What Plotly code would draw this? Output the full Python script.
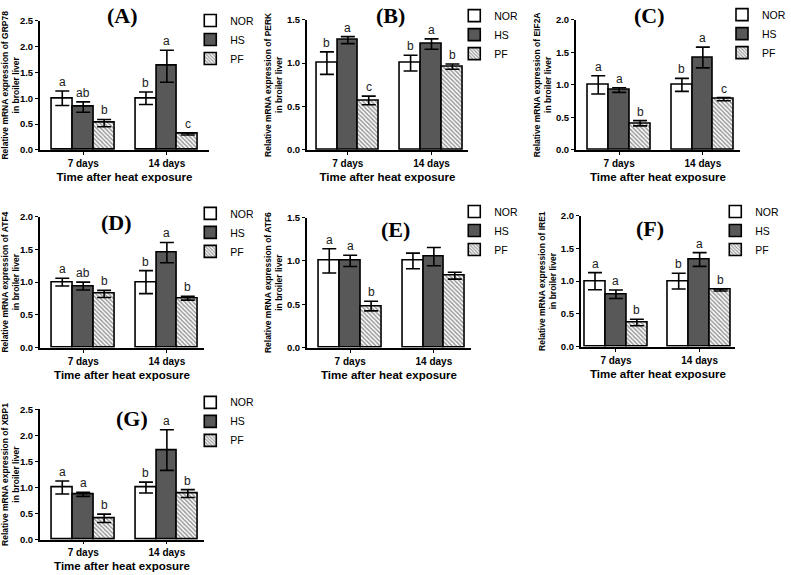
import plotly.graph_objects as go

W, H = 791, 575

categories = ["7 days", "14 days"]
groups = ["NOR", "HS", "PF"]
genes = ["GRP78", "PERK", "EIF2A", "ATF4", "ATF6", "IRE1", "XBP1"]
panel_labels = ["(A)", "(B)", "(C)", "(D)", "(E)", "(F)", "(G)"]
y_max = [2.5, 1.5, 2.0, 2.0, 1.5, 2.0, 2.5]

# means [7 days, 14 days] per panel
nor_mean = [[1.0, 1.0], [1.0, 1.0], [1.0, 1.0], [1.0, 1.0], [1.0, 1.0], [1.0, 1.0], [1.0, 1.0]]
hs_mean = [[0.83, 1.62], [1.265, 1.22], [0.92, 1.42], [0.94, 1.45], [1.0, 1.05], [0.80, 1.33], [0.87, 1.72]]
pf_mean = [[0.52, 0.31], [0.57, 0.96], [0.41, 0.78], [0.82, 0.755], [0.48, 0.83], [0.37, 0.865], [0.41, 0.885]]
# error (SEM) values
nor_err = [[0.14, 0.12], [0.13, 0.09], [0.14, 0.10], [0.06, 0.175], [0.14, 0.09], [0.13, 0.12], [0.125, 0.105]]
hs_err = [[0.10, 0.31], [0.04, 0.06], [0.035, 0.16], [0.06, 0.155], [0.065, 0.105], [0.065, 0.105], [0.04, 0.39]]
pf_err = [[0.07, 0.02], [0.05, 0.03], [0.04, 0.025], [0.055, 0.03], [0.055, 0.04], [0.05, 0.015], [0.08, 0.075]]
# significance letters
nor_let = [["a", "b"], ["b", "b"], ["a", "b"], ["a", "b"], ["a", ""], ["a", "b"], ["a", "b"]]
hs_let = [["ab", "a"], ["a", "a"], ["a", "a"], ["ab", "a"], ["a", ""], ["a", "a"], ["a", "a"]]
pf_let = [["b", "c"], ["c", "b"], ["b", "c"], ["b", "b"], ["b", ""], ["b", "b"], ["b", "b"]]

# layout in pixels: (axis left x, top of y axis, bottom of y axis, axis width, x range start)
boxes = [(40, 14, 146, 170, -0.518), (308, 13, 146, 162, -0.49), (578, 13, 146, 165, -0.518),
         (40, 214, 348, 165, -0.518), (308, 215, 348, 165, -0.518), (583, 213, 347, 155, -0.42),
         (40, 411, 544, 165, -0.518)]
PX_PER_UNIT = 84.0
title_pos = [(123, 9), (392, 9), (652, 9), (117, 220), (397, 227), (652, 226), (133, 420)]
legend_pos = [(191, -1), (456, -6), (725, -7), (191, 196), (456, 194), (718, 194), (191, 389)]

FONT = "Arial, Liberation Sans, sans-serif"
SERIF = "Times New Roman, Liberation Serif, serif"
HS_COLOR = "#585858"

fig = go.Figure()
layout_upd = {}
annotations = []

group_width = 0.75
bw = group_width / 3
offsets = [-bw, 0.0, bw]

for p in range(7):
    ax = "" if p == 0 else str(p + 1)
    xa, ya = "x" + ax, "y" + ax
    leg = "legend" if p == 0 else "legend" + str(p + 1)
    means = [nor_mean[p], hs_mean[p], pf_mean[p]]
    errs = [nor_err[p], hs_err[p], pf_err[p]]
    lets = [nor_let[p], hs_let[p], pf_let[p]]
    for g in range(3):
        xs = [i + offsets[g] for i in range(len(categories))]
        marker = dict(color="white", line=dict(color="black", width=1.6))
        if g == 1:
            marker = dict(color=HS_COLOR, line=dict(color="black", width=1.6))
        elif g == 2:
            marker = dict(color="white", line=dict(color="black", width=1.6),
                          pattern=dict(shape="\\", fgcolor="#333333", bgcolor="white",
                                       size=3, solidity=0.5))
        fig.add_trace(go.Bar(
            x=xs, y=means[g], width=bw, name=groups[g], marker=marker,
            error_y=dict(type="data", array=errs[g], color="black", thickness=1.6, width=7),
            xaxis=xa, yaxis=ya, legend=leg, showlegend=True,
        ))
        for i in range(len(categories)):
            if lets[g][i]:
                annotations.append(dict(
                    x=xs[i], y=means[g][i] + errs[g][i], xref=xa, yref=ya,
                    text=lets[g][i], showarrow=False, yanchor="bottom", yshift=0,
                    font=dict(family=FONT, size=12, color="#1a1a1a")))
    x0, top, bot, axw, xr0 = boxes[p]
    key = "" if p == 0 else str(p + 1)
    layout_upd["xaxis" + key] = dict(
        domain=[x0 / W, (x0 + axw) / W], anchor=ya, range=[xr0, xr0 + axw / PX_PER_UNIT],
        tickvals=list(range(len(categories))), ticktext=categories,
        showline=True, linecolor="black", linewidth=1.6, ticks="outside", ticklen=3,
        tickcolor="black", tickwidth=1.4, showgrid=False, zeroline=False,
        tickfont=dict(family=FONT, size=10, color="black", weight="bold"),
        title=dict(text="Time after heat exposure", standoff=5,
                   font=dict(family=FONT, size=11.5, color="black", weight="bold")),
        fixedrange=True)
    layout_upd["yaxis" + key] = dict(
        domain=[1 - bot / H, 1 - top / H], anchor=xa, range=[0, y_max[p]], dtick=0.5,
        tickformat=".1f", showline=True, linecolor="black", linewidth=1.6,
        ticks="outside", ticklen=3, tickcolor="black", tickwidth=1.4,
        showgrid=False, zeroline=False,
        tickfont=dict(family=FONT, size=9.5, color="black", weight="bold"),
        title=dict(text="Relative mRNA expression of " + genes[p] + "<br>in broiler liver",
                   standoff=3, font=dict(family=FONT, size=8.5, color="black", weight="bold")),
        fixedrange=True)
    lx, ly = legend_pos[p]
    layout_upd[leg] = dict(x=lx / W, y=1 - ly / H, xanchor="left", yanchor="top",
                           bgcolor="rgba(0,0,0,0)", font=dict(family=FONT, size=10.5, color="black"),
                           itemwidth=30, tracegroupgap=0)
    tx, ty = title_pos[p]
    annotations.append(dict(x=tx / W, y=1 - ty / H, xref="paper", yref="paper",
                            text=panel_labels[p], showarrow=False, xanchor="center",
                            yanchor="middle",
                            font=dict(family=SERIF, size=22, color="black", weight="bold")))

fig.update_layout(**layout_upd)
fig.update_layout(width=W, height=H, autosize=False, margin=dict(l=0, r=0, t=0, b=0),
                  paper_bgcolor="white", plot_bgcolor="white", bargap=0,
                  annotations=annotations, barmode="overlay")

fig.write_html("out.html", config={"displayModeBar": False},
               post_script="document.body.style.margin='0';document.body.style.padding='0';")
